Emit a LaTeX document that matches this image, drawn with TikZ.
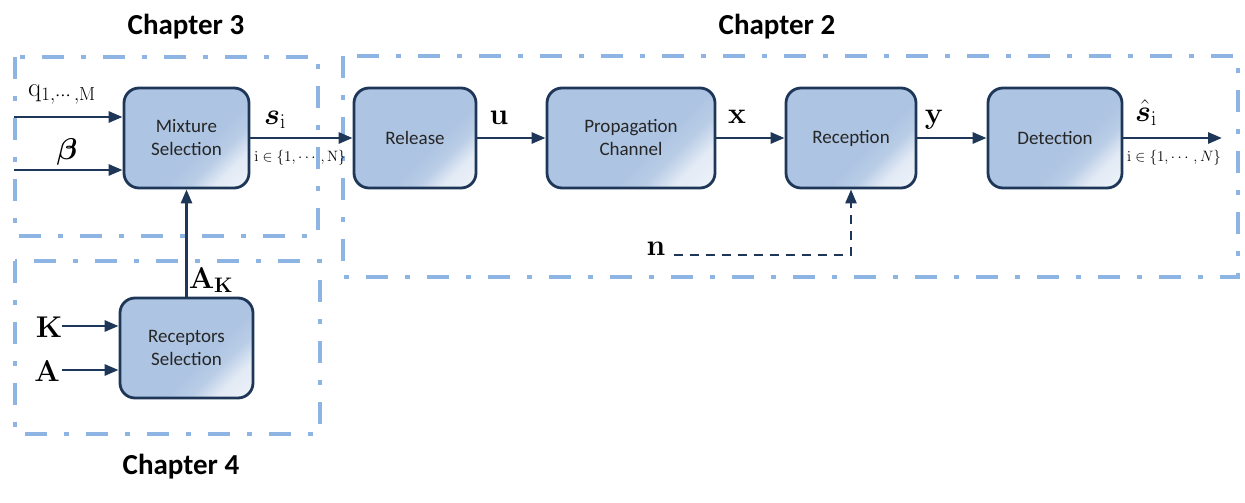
\RequirePackage{fix-cm}
\documentclass[tikz,border=0pt]{standalone}
\usepackage{amsmath,bm}
\usepackage[no-math]{fontspec}
\setmainfont{Carlito}
\newfontfamily\chapfont{Carlito}
\usetikzlibrary{arrows.meta}
\definecolor{boxblue}{RGB}{173,196,226}
\definecolor{navy}{RGB}{30,55,88}
\definecolor{framecol}{RGB}{141,180,226}
\pgfdeclarehorizontalshading{boxshade}{100bp}{color(0bp)=(boxblue); color(58bp)=(boxblue); color(66bp)=(boxblue!85!white); color(74bp)=(boxblue!35!white); color(100bp)=(white)}
\tikzset{
  blk/.style={draw=navy, line width=2.8pt, rounded corners=15pt, shading=boxshade, shading angle=-45,
    minimum height=100pt, inner sep=0pt, align=center, font=\fontsize{19}{23}\selectfont, text=black!85},
  frm/.style={draw=framecol, line width=4pt, dash pattern=on 22pt off 17pt on 5pt off 17pt},
  arr/.style={draw=navy, line width=2.8pt, -{Triangle[length=14pt,width=11pt]}},
  dsh/.style={draw=navy, line width=2.6pt, dash pattern=on 9pt off 7pt, -{Triangle[length=14pt,width=11pt]}},
  mlab/.style={inner sep=0pt, font=\fontsize{30}{34}\selectfont},
  qlab/.style={inner sep=0pt, font=\fontsize{27}{30}\selectfont},
  slab/.style={inner sep=0pt, font=\fontsize{15}{17}\selectfont},
  chap/.style={inner sep=0pt, font=\chapfont\bfseries\fontsize{29}{32}\selectfont}
}
\begin{document}
\begin{tikzpicture}[x=1pt,y=-1pt]
\useasboundingbox (0,0) rectangle (1245,503);
% frames
\draw[frm] (15,57) rectangle (318,236);
\draw[frm] (15,261) rectangle (320,434);
\draw[frm] (343,56) rectangle (1238,277);
% chapter labels
\node[chap] (c3) at (186,27) {Chapter 3};
\node[chap] (c2) at (777,27) {Chapter 2};
\node[chap] (c4) at (181,467) {Chapter 4};
% blocks
\node[blk, minimum width=125pt] (mix) at (186.5,138) {Mixture\\Selection};
\node[blk, minimum width=122pt] (rel) at (415,138) {Release};
\node[blk, minimum width=168pt] (prop) at (631,138) {Propagation\\Channel};
\node[blk, minimum width=130pt] (rec) at (851,138) {Reception};
\node[blk, minimum width=134pt] (det) at (1055,138) {Detection};
\node[blk, minimum width=133pt] (rcp) at (186.5,348) {Receptors\\Selection};
% input coordinates
\coordinate (qin) at (14,117);
\coordinate (bin) at (14,170);
\coordinate (kin) at (62,326);
\coordinate (ain) at (62,370);
\coordinate (out) at (1222,138);
\coordinate (nin) at (674,255);
% connectors
\draw[arr] (qin) -- (qin -| mix.west);
\draw[arr] (bin) -- (bin -| mix.west);
\draw[arr] (kin) -- (kin -| rcp.west);
\draw[arr] (ain) -- (ain -| rcp.west);
\draw[arr] (rcp.north) -- (mix.south);
\draw[arr] (mix.east) -- (rel.west);
\draw[arr] (rel.east) -- (prop.west);
\draw[arr] (prop.east) -- (rec.west);
\draw[arr] (rec.east) -- (det.west);
\draw[arr] (det.east) -- (out);
\draw[dsh] (nin) -| (rec.south);
% labels
\node[qlab] (lq) at (62,95) {$\mathrm{q}_{1,\cdots,\mathrm{M}}$};
\node[mlab] (lb) at (67,152) {$\bm{\beta}$};
\node[mlab] (ls) at (275,120) {$\bm{s}_{\mathrm{i}}$};
\node[slab] (li1) at (300,158) {$\mathrm{i}\in\{1,\cdots,\mathrm{N}\}$};
\node[mlab] (lu) at (499,118) {$\mathbf{u}$};
\node[mlab] (lx) at (737,117) {$\mathbf{x}$};
\node[mlab] (ly) at (934,120) {$\mathbf{y}$};
\node[mlab] (lsh) at (1146,113) {$\hat{\bm{s}}_{\mathrm{i}}$};
\node[slab] (li2) at (1174,158) {$\mathrm{i}\in\{1,\cdots,N\}$};
\node[mlab] (ln) at (656,249) {$\mathbf{n}$};
\node[mlab] (lak) at (211,280) {$\mathbf{A}_{\mathbf{K}}$};
\node[mlab] (lk) at (49,327) {$\mathbf{K}$};
\node[mlab] (la) at (47,371) {$\mathbf{A}$};
\end{tikzpicture}
\end{document}
